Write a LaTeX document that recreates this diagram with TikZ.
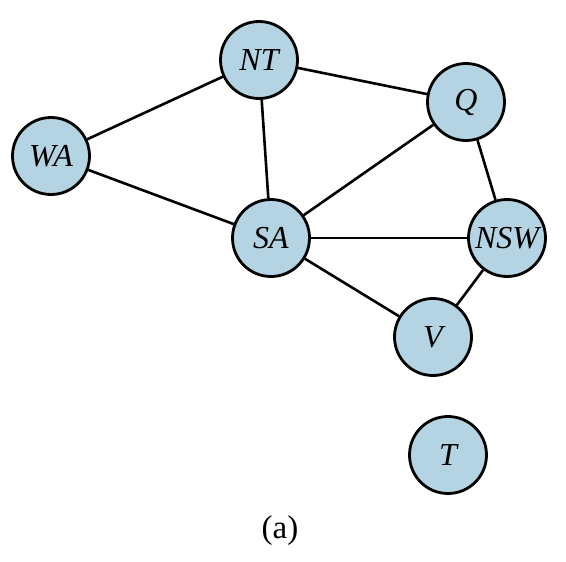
\documentclass[tikz,border=0pt]{standalone}
\usepackage{fontspec}
\setmainfont{Liberation Serif}
\definecolor{nodeblue}{RGB}{180,212,228}
\begin{document}
\begin{tikzpicture}[x=1pt,y=-1pt,
  region/.style={circle,draw=black,line width=2.8pt,fill=nodeblue,minimum size=77pt,inner sep=0pt,font=\fontsize{32}{34}\selectfont\itshape},
  edge/.style={line width=2.6pt}]
\useasboundingbox (0,0) rectangle (566,562);
\node[region] (NT) at (259,60) {NT};
\node[region] (Q) at (466,102) {Q};
\node[region] (WA) at (51,156) {WA};
\node[region] (SA) at (271,238) {SA};
\node[region] (NSW) at (507,238) {NSW};
\node[region] (V) at (433,337) {V};
\node[region] (T) at (448,455) {T};
\node[font=\fontsize{33}{35}\selectfont] (cap) at (280,531) {(a)};
\draw[edge] (NT) -- (WA);
\draw[edge] (NT) -- (Q);
\draw[edge] (NT) -- (SA);
\draw[edge] (WA) -- (SA);
\draw[edge] (SA) -- (Q);
\draw[edge] (SA) -- (NSW);
\draw[edge] (SA) -- (V);
\draw[edge] (Q) -- (NSW);
\draw[edge] (NSW) -- (V);
\end{tikzpicture}
\end{document}
